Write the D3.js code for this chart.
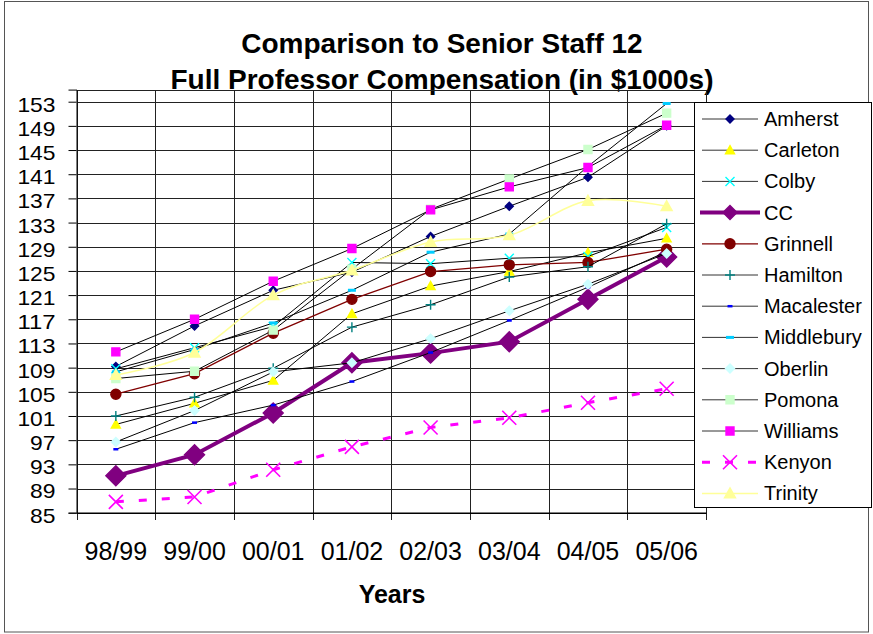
<!DOCTYPE html>
<html><head><meta charset="utf-8">
<script src="https://cdn.jsdelivr.net/npm/d3@7"></script>
<style>
body{margin:0;background:#fff}
svg{display:block}
text{font-family:"Liberation Sans",Arial,sans-serif;fill:#000}
</style>
</head><body>
<svg id="c" width="873" height="634"></svg>
<script>
// ---------- DATA ----------
const years = ["98/99","99/00","00/01","01/02","02/03","03/04","04/05","05/06"];
const yTicks = [85,89,93,97,101,105,109,113,117,121,125,129,133,137,141,145,149,153];
const seriesNames = ["Amherst","Carleton","Colby","CC","Grinnell","Hamilton","Macalester","Middlebury","Oberlin","Pomona","Williams","Kenyon","Trinity"];
const amherst    = [109.2,115.9,121.8,124.8,130.7,135.7,140.5,149.0];
const carleton   = [99.6,103.1,106.9,117.9,122.5,124.9,128.0,130.4];
const colby      = [108.8,112.3,115.8,126.4,126.2,127.1,127.4,132.2];
const cc         = [91.1,94.6,101.5,109.8,111.4,113.3,120.3,127.3];
const grinnell   = [104.6,108.0,114.7,120.3,124.9,126.0,126.4,128.6];
const hamilton   = [101.0,104.1,108.9,115.7,119.4,124.0,125.7,132.8];
const macalester = [95.5,99.9,102.8,106.7,111.5,116.8,122.3,128.2];
const middlebury = [108.3,112.0,116.4,121.8,128.1,131.1,142.3,152.7];
const oberlin    = [96.7,101.9,108.3,109.8,113.8,118.4,122.8,127.9];
const pomona     = [107.2,108.4,115.2,125.3,135.2,140.2,145.1,151.1];
const williams   = [111.6,117.0,123.3,128.7,135.1,138.9,142.1,149.1];
const kenyon     = [86.8,87.6,92.1,95.9,99.1,100.7,103.2,105.5];
const trinity    = [107.8,111.5,121.0,125.1,129.8,130.9,136.6,135.7];
const valuesList = [amherst,carleton,colby,cc,grinnell,hamilton,macalester,middlebury,oberlin,pomona,williams,kenyon,trinity];

// ---------- STYLES ----------
const styles = {
  Amherst:   {stroke:"#000", w:1, marker:"diamond", fill:"#000080", mstroke:"#000080", size:8},
  Carleton:  {stroke:"#000", w:1, marker:"triangle", fill:"#FFFF00", mstroke:"#FFFF00", size:9},
  Colby:     {stroke:"#000", w:1, marker:"x", fill:"none", mstroke:"#00FFFF", size:9},
  CC:        {stroke:"#800080", w:4, marker:"diamond", fill:"#800080", mstroke:"#800080", size:20},
  Grinnell:  {stroke:"#800000", w:1.3, marker:"circle", fill:"#800000", mstroke:"#800000", size:10},
  Hamilton:  {stroke:"#000", w:1, marker:"plus", fill:"none", mstroke:"#008080", size:10},
  Macalester:{stroke:"#000", w:1, marker:"dash", fill:"#0000FF", mstroke:"none", size:5, th:2.5},
  Middlebury:{stroke:"#000", w:1, marker:"dash", fill:"#00CCFF", mstroke:"none", size:8, th:3},
  Oberlin:   {stroke:"#000", w:1, marker:"diamond", fill:"#CCFFFF", mstroke:"#CCFFFF", size:9},
  Pomona:    {stroke:"#000", w:1, marker:"square", fill:"#CCFFCC", mstroke:"#CCFFCC", size:8},
  Williams:  {stroke:"#000", w:1, marker:"square", fill:"#FF00FF", mstroke:"#FF00FF", size:8},
  Kenyon:    {stroke:"#FF00FF", w:3, dash:"8,15", marker:"x", fill:"none", mstroke:"#FF00FF", size:14, mw:1.6},
  Trinity:   {stroke:"#FFFF99", w:1.5, marker:"triangle", fill:"#FFFF99", mstroke:"#FFFF99", size:11, smooth:true}
};

function markerPath(type, s, th){
  const h = s/2;
  switch(type){
    case "diamond": return `M0,${-h}L${h},0L0,${h}L${-h},0Z`;
    case "square": return `M${-h},${-h}h${s}v${s}h${-s}Z`;
    case "triangle": return `M0,${-h}L${h},${h*0.8}L${-h},${h*0.8}Z`;
    case "circle": return `M${-h},0a${h},${h} 0 1,0 ${s},0a${h},${h} 0 1,0 ${-s},0Z`;
    case "x": return `M${-h},${-h}L${h},${h}M${-h},${h}L${h},${-h}`;
    case "plus": return `M${-h},0H${h}M0,${-h}V${h}`;
    case "dash": return `M${-h},${-th/2}h${s}v${th}h${-s}Z`;
  }
}

// ---------- LAYOUT ----------
const svg = d3.select("#c");
const pL = 76.5, pR = 706, pT = 89.6, pB = 512.7;
const x = d3.scaleBand().domain(years).range([pL, pR]).padding(0);
const cx = d => x(d) + x.bandwidth()/2;
const y = d3.scaleLinear().domain([85,155]).range([pB, pT]);

// outer border
svg.append("rect").attr("x",4.5).attr("y",1.5).attr("width",864).attr("height",630.5)
  .attr("fill","none").attr("stroke","#555").attr("stroke-width",1);

// title
svg.append("text").attr("x",442).attr("y",53).attr("text-anchor","middle")
  .attr("font-size",28).attr("font-weight","bold").text("Comparison to Senior Staff 12");
svg.append("text").attr("x",442).attr("y",89).attr("text-anchor","middle")
  .attr("font-size",28).attr("font-weight","bold").text("Full Professor Compensation (in $1000s)");

// horizontal grid
const gGrid = svg.append("g").attr("transform",`translate(${pL},0)`)
  .call(d3.axisLeft(y).tickValues(yTicks).tickSize(-(pR-pL)).tickFormat(""));
gGrid.select(".domain").remove();
gGrid.selectAll("line").attr("stroke","#222").attr("shape-rendering","crispEdges");

// plot top border
svg.append("line").attr("x1",pL).attr("x2",pR).attr("y1",Math.round(pT)+0.5).attr("y2",Math.round(pT)+0.5)
  .attr("stroke","#222").attr("shape-rendering","crispEdges");

// vertical grid at category boundaries (+ ticks below axis)
const bounds = years.map(d => x(d)).concat([x(years[years.length-1]) + x.bandwidth()]);
svg.append("g").selectAll("line").data(bounds).join("line")
  .attr("x1",d=>Math.round(d)+0.5).attr("x2",d=>Math.round(d)+0.5)
  .attr("y1",pT).attr("y2",pB+7)
  .attr("stroke","#222").attr("shape-rendering","crispEdges");

// y axis
const gy = svg.append("g").attr("transform",`translate(${pL},0)`)
  .call(d3.axisLeft(y).tickValues(yTicks).tickSize(8).tickPadding(13));
gy.select(".domain").attr("stroke","#000");
gy.selectAll("line").attr("stroke","#000");
gy.selectAll("text").attr("font-size",21).attr("dy","0.45em")
  .attr("textLength", d => String(d).length*12.7).attr("lengthAdjust","spacingAndGlyphs")
  .style("font-family",'"Liberation Sans",Arial,sans-serif');

// x axis
const gx = svg.append("g").attr("transform",`translate(0,${pB})`)
  .call(d3.axisBottom(x).tickSize(0).tickPadding(30));
gx.select(".domain").attr("stroke","#000").attr("stroke-width",1.5);
gx.selectAll("text").attr("font-size",25).style("font-family",'"Liberation Sans",Arial,sans-serif');

svg.append("text").attr("x",392).attr("y",603).attr("text-anchor","middle")
  .attr("font-size",25).attr("font-weight","bold").text("Years");

// ---------- SERIES ----------
const gS = svg.append("g");
seriesNames.forEach((name, i) => {
  const st = styles[name];
  const vals = valuesList[i];
  const line = d3.line().x((v,j)=>cx(years[j])).y(v=>y(v))
    .curve(st.smooth ? d3.curveCardinal.tension(0) : d3.curveLinear);
  gS.append("path").attr("d", line(vals)).attr("fill","none")
    .attr("stroke", st.stroke).attr("stroke-width", st.w)
    .attr("stroke-dasharray", st.dash || null);
  gS.append("g").selectAll("path").data(vals).join("path")
    .attr("transform",(v,j)=>`translate(${cx(years[j])},${y(v)})`)
    .attr("d", markerPath(st.marker, st.size, st.th))
    .attr("fill", st.fill).attr("stroke", st.mstroke)
    .attr("stroke-width", st.mw || 1.4);
});

// ---------- LEGEND ----------
const lg = svg.append("g");
lg.append("rect").attr("x",694.5).attr("y",102.5).attr("width",177).attr("height",405)
  .attr("fill","#fff").attr("stroke","#000").attr("stroke-width",1);
seriesNames.forEach((name, i) => {
  const st = styles[name];
  const ly = 119 + i*31.2;
  lg.append("line").attr("x1", name==="CC"?700:702).attr("x2", name==="CC"?760:758)
    .attr("y1",ly).attr("y2",ly)
    .attr("stroke", name==="Trinity" ? st.stroke : (st.stroke==="#000" ? "#333" : st.stroke))
    .attr("stroke-width", st.w).attr("stroke-dasharray", st.dash || null);
  lg.append("path").attr("transform",`translate(730,${ly})`)
    .attr("d", markerPath(st.marker, name==="CC"?14:st.size, st.th))
    .attr("fill", st.fill).attr("stroke", st.mstroke).attr("stroke-width", st.mw || 1.4);
  lg.append("text").attr("x",764).attr("y",ly+7).attr("font-size",20).text(name);
});
</script>
</body></html>
